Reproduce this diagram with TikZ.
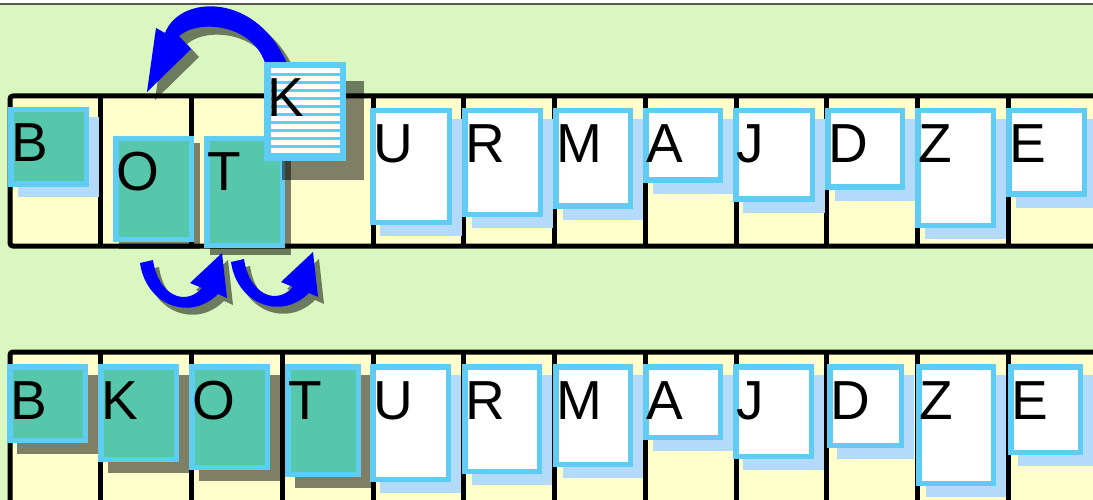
\documentclass[tikz,border=0pt]{standalone}
\usepackage{fontspec}
\setmainfont{Liberation Sans}
\definecolor{bgc}{HTML}{D9F7BE}
\definecolor{cellc}{HTML}{FFFFCC}
\definecolor{cyanc}{HTML}{5FCDF3}
\definecolor{tealc}{HTML}{56C7AA}
\definecolor{shbluec}{HTML}{B3DAF9}
\definecolor{arrowc}{HTML}{0000FF}
\newcommand\crd[8]{%
  \fill[#7] (#2,#3) rectangle (#4,#5);
  \node[cardbox, fill=#6, minimum width={#4-#2-5.5}, minimum height={#5-#3-5.5}] (#1) at ({(#2+#4)/2},{(#3+#5)/2}) {};
  \node[letter] (#1-l) at ({#2+3},{#3+55}) {#8};
}
\begin{document}
\begin{tikzpicture}[x=1pt,y=-1pt,
  tline/.style={line width=5pt, draw=black},
  cardbox/.style={draw=cyanc, line width=5.5pt, inner sep=0pt, outer sep=0pt, rectangle},
  letter/.style={font=\fontsize{55}{55}\selectfont, inner sep=0pt, outer sep=0pt, anchor=base west},
  shb/.style={fill=shbluec, shift={(10,11)}},
  shbt/.style={fill=shbluec, shift={(10,10)}},
  shd/.style={fill=black, fill opacity=0.5, shift={(10,11)}},
  shds/.style={fill=black, fill opacity=0.5, shift={(6,7)}},
  shdk/.style={fill=black, fill opacity=0.5, shift={(18,19)}},
  ashadow/.style={fill=black, fill opacity=0.5},
  arrowfill/.style={fill=arrowc}]
\clip (0,0) rectangle (1093,500);
\fill[bgc] (0,0) rectangle (1093,500);
\fill[white] (0,0) rectangle (1093,3);
\draw[line width=2pt, black!65] (0,4) -- (1093,4);
% top table
\fill[cellc] (10,96) rectangle (1110,246);
\draw[tline, rounded corners=3pt] (1110,96) -- (10,96) -- (10,246) -- (1110,246);
\foreach \i in {1,...,11} \draw[tline] ({10+90.75*\i},96) -- ({10+90.75*\i},246);
% bottom table
\fill[cellc] (10,352) rectangle (1110,510);
\draw[tline, rounded corners=3pt] (1110,352) -- (10,352) -- (10,510);
\foreach \i in {1,...,11} \draw[tline] ({10+90.75*\i},352) -- ({10+90.75*\i},510);
% top row cards
\crd{tB}{8}{107}{89}{187}{tealc}{shbt}{B}
\crd{tO}{113}{136}{194}{242}{tealc}{shds}{O}
\crd{tT}{204}{136}{285}{248}{tealc}{shds}{T}
\crd{tU}{370}{108}{452}{225}{white}{shb}{U}
\crd{tR}{462}{108}{543}{217}{white}{shb}{R}
\crd{tM}{553}{108}{633}{209}{white}{shb}{M}
\crd{tA}{643}{108}{723}{183}{white}{shb}{A}
\crd{tJ}{733}{108}{815}{202}{white}{shb}{J}
\crd{tD}{825}{108}{905}{190}{white}{shb}{D}
\crd{tZ}{915}{108}{996}{228}{white}{shb}{Z}
\crd{tE}{1006}{108}{1087}{197}{white}{shb}{E}
% big curved arrow
\fill[ashadow, shift={(8,8)}] (266,66) .. controls (255,25) and (200,18) .. (179,36) -- (191,49) -- (147,92) -- (156,28) -- (165,33) .. controls (180,-6) and (258,-8) .. (288,66) -- cycle;
\fill[arrowfill] (266,66) .. controls (255,25) and (200,18) .. (179,36) -- (191,49) -- (147,92) -- (156,28) -- (165,33) .. controls (180,-6) and (258,-8) .. (288,66) -- cycle;
% K card (striped)
\crd{tK}{264}{62}{346}{161}{cyanc}{shdk}{}
\foreach \i in {0,...,10} \fill[white] (271,{68.3+8*\i}) rectangle (340,{73.5+8*\i});
\node[letter] (tK-l) at (267,117) {K};
% small U arrows
\foreach \dx/\dy in {0/0, 91/-1} {
  \fill[ashadow, shift={(\dx+6,\dy+7)}] (140,263) .. controls (146,305) and (190,322) .. (218,294) -- (227,298) -- (222,253) -- (190,283) -- (202,288) .. controls (185,307) and (158,295) .. (153,260) -- cycle;
  \fill[arrowfill, shift={(\dx,\dy)}] (140,263) .. controls (146,305) and (190,322) .. (218,294) -- (227,298) -- (222,253) -- (190,283) -- (202,288) .. controls (185,307) and (158,295) .. (153,260) -- cycle;
}
% bottom row cards
\crd{bB}{7}{364}{88}{443}{tealc}{shd}{B}
\crd{bK}{98}{364}{179}{462}{tealc}{shd}{K}
\crd{bO}{189}{364}{270}{470}{tealc}{shd}{O}
\crd{bT}{285}{364}{361}{477}{tealc}{shd}{T}
\crd{bU}{370}{364}{451}{482}{white}{shb}{U}
\crd{bR}{462}{364}{542}{474}{white}{shb}{R}
\crd{bM}{553}{364}{633}{467}{white}{shb}{M}
\crd{bA}{643}{364}{723}{440}{white}{shb}{A}
\crd{bJ}{733}{364}{814}{459}{white}{shb}{J}
\crd{bD}{827}{364}{904}{448}{white}{shb}{D}
\crd{bZ}{916}{364}{996}{486}{white}{shb}{Z}
\crd{bE}{1008}{364}{1083}{455}{white}{shb}{E}
\end{tikzpicture}
\end{document}
